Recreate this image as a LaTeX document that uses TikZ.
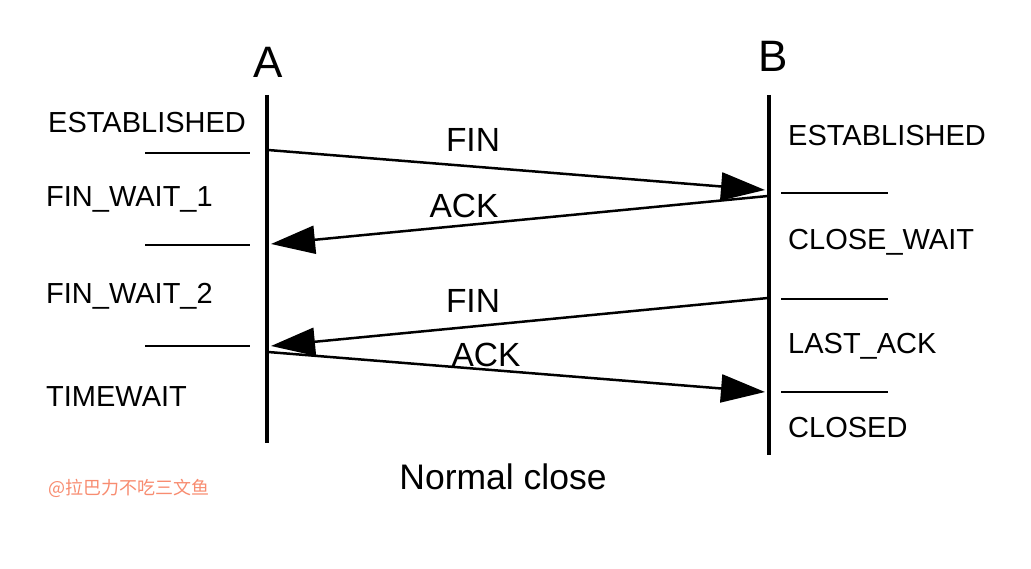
\documentclass[tikz,border=0pt]{standalone}
\usepackage{fontspec}
\setmainfont{Liberation Sans}
\newfontfamily\cjk{Noto Sans CJK SC}
\usetikzlibrary{arrows.meta}
\definecolor{wm}{RGB}{248,140,112}
\begin{document}
\begin{tikzpicture}[x=1pt,y=-1pt,
  life/.style={line width=3.5pt},
  tick/.style={line width=1.8pt},
  msg/.style={line width=2.5pt,-{Triangle[length=44pt,width=28pt]}},
  state/.style={anchor=west,inner sep=0pt,font=\fontsize{29}{33}\selectfont},
  msglabel/.style={inner sep=0pt,font=\fontsize{33.5}{38}\selectfont},
  head/.style={inner sep=0pt,font=\fontsize{44}{50}\selectfont}]
\useasboundingbox[fill=white] (0,0) rectangle (1031,569);
% lifelines
\coordinate (Atop) at (267,95);
\coordinate (Abot) at (267,443);
\coordinate (Btop) at (769,95);
\coordinate (Bbot) at (769,455);
\draw[life] (Atop) -- (Abot);
\draw[life] (Btop) -- (Bbot);
\node[head] (A) at (268,62) {A};
\node[head] (B) at (773,56) {B};
% left states
\node[state] (s1) at (48,123) {ESTABLISHED};
\node[state] (s2) at (46,199) {FIN\_WAIT\_1};
\node[state] (s3) at (46,296) {FIN\_WAIT\_2};
\node[state] (s4) at (46,397) {TIMEWAIT};
\coordinate (l1a) at (145,153); \coordinate (l1b) at (250,153);
\coordinate (l2a) at (145,245); \coordinate (l2b) at (250,245);
\coordinate (l3a) at (145,346); \coordinate (l3b) at (250,346);
\draw[tick] (l1a) -- (l1b);
\draw[tick] (l2a) -- (l2b);
\draw[tick] (l3a) -- (l3b);
% right states
\node[state] (r1) at (788,136) {ESTABLISHED};
\node[state] (r2) at (788,242) {CLOSE\_WAIT};
\node[state] (r3) at (788,346) {LAST\_ACK};
\node[state] (r4) at (788,428) {CLOSED};
\coordinate (r1a) at (781,193); \coordinate (r1b) at (888,193);
\coordinate (r2a) at (781,299); \coordinate (r2b) at (888,299);
\coordinate (r3a) at (781,392); \coordinate (r3b) at (888,392);
\draw[tick] (r1a) -- (r1b);
\draw[tick] (r2a) -- (r2b);
\draw[tick] (r3a) -- (r3b);
% messages
\coordinate (m1s) at (268,150); \coordinate (m1e) at (765,190);
\coordinate (m2s) at (768,196); \coordinate (m2e) at (271,244);
\coordinate (m3s) at (768,298); \coordinate (m3e) at (271,346);
\coordinate (m4s) at (268,352); \coordinate (m4e) at (765,392);
\draw[msg] (m1s) -- (m1e);
\draw[msg] (m2s) -- (m2e);
\draw[msg] (m3s) -- (m3e);
\draw[msg] (m4s) -- (m4e);
\node[msglabel] (f1) at (473,140) {FIN};
\node[msglabel] (a1) at (464,206) {ACK};
\node[msglabel] (f2) at (473,301) {FIN};
\node[msglabel] (a2) at (486,355) {ACK};
\node[inner sep=0pt,font=\fontsize{35.5}{40}\selectfont] (cap) at (503,477) {Normal close};
\node[anchor=west,inner sep=0pt,text=wm,font=\cjk\fontsize{18}{21}\selectfont] (wmk) at (48,488) {@拉巴力不吃三文鱼};
\end{tikzpicture}
\end{document}
